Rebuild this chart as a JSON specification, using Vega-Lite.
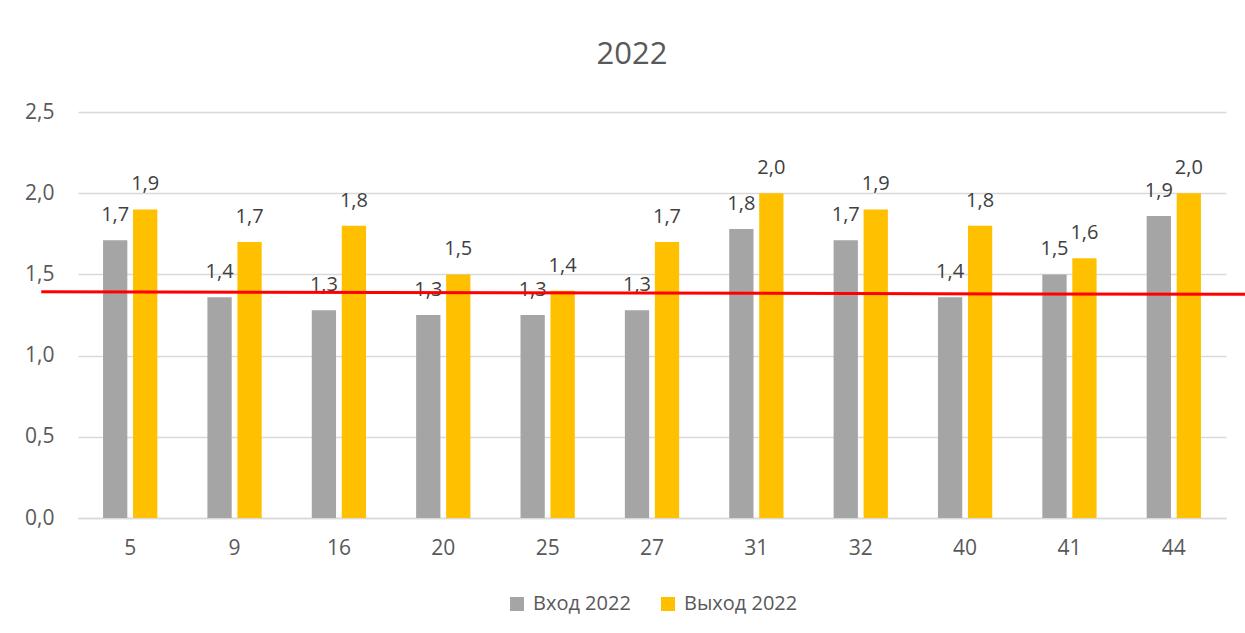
{
  "$schema": "https://vega.github.io/schema/vega-lite/v6.json",
  "autosize": "none",
  "width": 1148,
  "height": 406,
  "padding": {"left": 78, "top": 112, "right": 19, "bottom": 115},
  "config": {
    "locale": {"number": {"decimal": ",", "thousands": " ", "grouping": [3], "currency": ["", ""]}},
    "font": "Open Sans",
    "view": {"stroke": null},
    "legend": {"layout": {"bottom": {"anchor": "middle"}}}
  },
  "title": {"text": "2022", "fontSize": 31, "fontWeight": "normal", "color": "#595959", "offset": 30, "dx": -20},
  "data": {
    "values": [
      {"cat": "5", "series": "Вход 2022", "value": 1.71},
      {"cat": "5", "series": "Выход 2022", "value": 1.9},
      {"cat": "9", "series": "Вход 2022", "value": 1.36},
      {"cat": "9", "series": "Выход 2022", "value": 1.7},
      {"cat": "16", "series": "Вход 2022", "value": 1.28},
      {"cat": "16", "series": "Выход 2022", "value": 1.8},
      {"cat": "20", "series": "Вход 2022", "value": 1.25},
      {"cat": "20", "series": "Выход 2022", "value": 1.5},
      {"cat": "25", "series": "Вход 2022", "value": 1.25},
      {"cat": "25", "series": "Выход 2022", "value": 1.4},
      {"cat": "27", "series": "Вход 2022", "value": 1.28},
      {"cat": "27", "series": "Выход 2022", "value": 1.7},
      {"cat": "31", "series": "Вход 2022", "value": 1.78},
      {"cat": "31", "series": "Выход 2022", "value": 2.0},
      {"cat": "32", "series": "Вход 2022", "value": 1.71},
      {"cat": "32", "series": "Выход 2022", "value": 1.9},
      {"cat": "40", "series": "Вход 2022", "value": 1.36},
      {"cat": "40", "series": "Выход 2022", "value": 1.8},
      {"cat": "41", "series": "Вход 2022", "value": 1.5},
      {"cat": "41", "series": "Выход 2022", "value": 1.6},
      {"cat": "44", "series": "Вход 2022", "value": 1.86},
      {"cat": "44", "series": "Выход 2022", "value": 2.0}
    ]
  },
  "layer": [
    {
      "encoding": {
        "x": {
          "field": "cat", "type": "nominal", "sort": null,
          "scale": {"paddingInner": 0.48, "paddingOuter": 0.24},
          "axis": {"title": null, "labelAngle": 0, "ticks": false, "domain": true, "domainColor": "#d9d9d9", "domainWidth": 1.5, "labelFontSize": 21, "labelColor": "#595959", "labelPadding": 19}
        },
        "xOffset": {"field": "series", "type": "nominal", "scale": {"paddingInner": 0.19, "paddingOuter": 0}},
        "y": {
          "field": "value", "type": "quantitative",
          "scale": {"domain": [0, 2.5], "nice": false},
          "axis": {"title": null, "values": [0, 0.5, 1, 1.5, 2, 2.5], "format": ".1f", "grid": true, "gridColor": "#d9d9d9", "gridWidth": 1.5, "domain": false, "ticks": false, "labelFontSize": 21, "labelColor": "#595959", "labelPadding": 24}
        }
      },
      "layer": [
        {
          "mark": {"type": "bar"},
          "encoding": {
            "color": {
              "field": "series", "type": "nominal",
              "scale": {"domain": ["Вход 2022", "Выход 2022"], "range": ["#a5a5a5", "#ffc000"]},
              "legend": {"orient": "bottom", "direction": "horizontal", "title": null, "symbolType": "square", "symbolSize": 196, "labelFontSize": 20, "labelColor": "#595959", "columnPadding": 27, "labelOffset": 6, "offset": 36}
            }
          }
        },
        {
          "mark": {"type": "text", "dy": -25, "fontSize": 20, "color": "#404040"},
          "encoding": {"text": {"field": "value", "type": "quantitative", "format": ".1f"}}
        }
      ]
    },
    {
      "data": {"values": [{"start": -0.032, "end": 1.017, "from": 1.393, "to": 1.377}]},
      "mark": {"type": "rule", "color": "#ff0000", "strokeWidth": 3, "clip": false},
      "encoding": {
        "x": {"field": "start", "type": "quantitative", "scale": {"domain": [0, 1]}, "axis": null},
        "x2": {"field": "end"},
        "y": {"field": "from", "type": "quantitative"},
        "y2": {"field": "to"}
      }
    }
  ],
  "resolve": {"scale": {"x": "independent"}}
}
